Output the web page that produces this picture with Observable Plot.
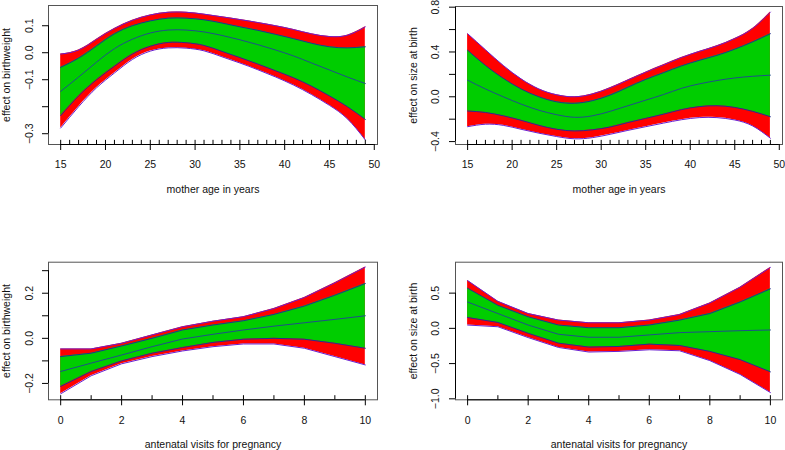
<!DOCTYPE html>
<html><head><meta charset="utf-8">
<script src="https://cdn.jsdelivr.net/npm/d3@7"></script>
<script src="https://cdn.jsdelivr.net/npm/@observablehq/plot@0.6"></script>
<style>
body{margin:0;background:#fff;}
#wrap{position:relative;width:785px;height:450px;overflow:hidden;background:#fff;}
#wrap svg{position:absolute;}
</style></head><body><div id="wrap"></div>
<script>
// ---------- data ----------
const ages = [15,17,19,21,23,25,27,29,31,33,35,37,39,41,43,45,47,49];
const ageRug = d3.range(15, 50);
const ageTicks = [15,20,25,30,35,40,45,50];

// panel 1: mother age -> effect on birthweight
const bwAgeHiO = [-0.005,0.01,0.05,0.09,0.12,0.14,0.15,0.15,0.143,0.133,0.123,0.112,0.1,0.086,0.07,0.06,0.065,0.096];
const bwAgeHiI = [-0.054,-0.02,0.025,0.07,0.1,0.118,0.128,0.128,0.122,0.11,0.096,0.083,0.068,0.052,0.035,0.022,0.018,0.022];
const bwAgeMean = [-0.143,-0.09,-0.035,0.015,0.05,0.073,0.084,0.084,0.077,0.064,0.048,0.03,0.01,-0.012,-0.038,-0.064,-0.09,-0.114];
const bwAgeLoI = [-0.233,-0.16,-0.1,-0.05,-0.005,0.024,0.038,0.037,0.027,0.005,-0.018,-0.042,-0.067,-0.093,-0.124,-0.16,-0.2,-0.247];
const bwAgeLoO = [-0.279,-0.2,-0.13,-0.075,-0.025,0.006,0.018,0.017,0.007,-0.015,-0.038,-0.063,-0.09,-0.12,-0.155,-0.195,-0.245,-0.323];
const bwAgeYTicks = [-0.3,-0.2,-0.1,0.0,0.1];
const bwAgeYLabels = [-0.3,-0.1,0.0,0.1];

// panel 2: mother age -> effect on size at birth
const szAgeHiO = [0.563,0.42,0.28,0.16,0.07,0.018,0.0,0.025,0.08,0.15,0.22,0.285,0.35,0.405,0.455,0.52,0.61,0.756];
const szAgeHiI = [0.415,0.28,0.165,0.07,0.0,-0.045,-0.058,-0.035,0.015,0.085,0.155,0.215,0.275,0.325,0.37,0.425,0.49,0.563];
const szAgeMean = [0.148,0.07,0.0,-0.065,-0.12,-0.16,-0.183,-0.17,-0.13,-0.08,-0.03,0.02,0.075,0.115,0.145,0.168,0.183,0.193];
const szAgeLoI = [-0.127,-0.14,-0.17,-0.21,-0.255,-0.29,-0.305,-0.295,-0.27,-0.23,-0.193,-0.155,-0.115,-0.088,-0.08,-0.095,-0.13,-0.178];
const szAgeLoO = [-0.267,-0.245,-0.255,-0.29,-0.325,-0.355,-0.375,-0.365,-0.335,-0.3,-0.267,-0.235,-0.205,-0.186,-0.186,-0.207,-0.26,-0.37];
const szAgeYTicks = [-0.4,-0.2,0.0,0.2,0.4,0.6,0.8];
const szAgeYLabels = [-0.4,0.0,0.4,0.8];

// panels 3 & 4: antenatal visits
const visits = [0,1,2,3,4,5,6,7,8,9,10];
const visitTicks = [0,2,4,6,8,10];

const bwVisHiO = [-0.047,-0.047,-0.022,0.015,0.051,0.076,0.096,0.132,0.181,0.246,0.316];
const bwVisHiI = [-0.081,-0.066,-0.034,0.0,0.037,0.059,0.078,0.106,0.143,0.191,0.243];
const bwVisMean = [-0.147,-0.11,-0.074,-0.037,-0.003,0.018,0.037,0.054,0.069,0.084,0.1];
const bwVisLoI = [-0.213,-0.147,-0.1,-0.066,-0.041,-0.018,-0.004,0.0,-0.004,-0.022,-0.044];
const bwVisLoO = [-0.246,-0.166,-0.113,-0.081,-0.056,-0.037,-0.025,-0.025,-0.044,-0.081,-0.118];
const bwVisYTicks = [-0.2,-0.1,0.0,0.1,0.2,0.3];
const bwVisYLabels = [-0.2,0.0,0.2];

const szVisHiO = [0.678,0.383,0.21,0.117,0.079,0.079,0.117,0.196,0.36,0.584,0.864];
const szVisHiI = [0.57,0.327,0.164,0.047,0.009,0.009,0.047,0.117,0.21,0.374,0.561];
const szVisMean = [0.374,0.21,0.047,-0.084,-0.126,-0.126,-0.093,-0.061,-0.047,-0.033,-0.023];
const szVisLoI = [0.154,0.084,-0.07,-0.21,-0.266,-0.257,-0.224,-0.243,-0.327,-0.444,-0.617];
const szVisLoO = [0.047,0.023,-0.131,-0.271,-0.336,-0.327,-0.304,-0.318,-0.458,-0.654,-0.911];
const szVisYTicks = [-1.0,-0.5,0.0,0.5];
const szVisYLabels = [-1.0,-0.5,0.0,0.5];

const labelAge = "mother age in years";
const labelVis = "antenatal visits for pregnancy";
const labelBw = "effect on birthweight";
const labelSz = "effect on size at birth";

// ---------- drawing ----------
const FONT = '"Liberation Sans", Arial, Helvetica, sans-serif';
const fmt = d => d.toFixed(1).replace("-", "\u2212");

function panel(cfg) {
  const rows = cfg.x.map((x, i) => ({x, loO: cfg.loO[i], loI: cfg.loI[i], m: cfg.mean[i], hiI: cfg.hiI[i], hiO: cfg.hiO[i]}));
  const [y0, y1] = cfg.yDomain;
  const [x0] = cfg.xDomain;
  const curve = cfg.curve;
  const svg = Plot.plot({
    width: cfg.width, height: cfg.height,
    marginLeft: cfg.ml, marginRight: cfg.mr, marginTop: cfg.mt, marginBottom: cfg.mb,
    x: {domain: cfg.xDomain},
    y: {domain: cfg.yDomain},
    style: {fontFamily: FONT, fontSize: "10.5px", background: "transparent", color: "#111"},
    marks: [
      Plot.areaY(rows, {x: "x", y1: "loO", y2: "hiO", fill: "#ff0000", curve}),
      Plot.areaY(rows, {x: "x", y1: "loI", y2: "hiI", fill: "#00cd00", curve}),
      Plot.line(rows, {x: "x", y: "hiO", stroke: "#6a1fd0", strokeWidth: 1, curve}),
      Plot.line(rows, {x: "x", y: "loO", stroke: "#6a1fd0", strokeWidth: 1, curve}),
      Plot.line(rows, {x: "x", y: "hiI", stroke: "#23308f", strokeWidth: 1, curve}),
      Plot.line(rows, {x: "x", y: "loI", stroke: "#23308f", strokeWidth: 1, curve}),
      Plot.line(rows, {x: "x", y: "m", stroke: "#1f4f8a", strokeWidth: 1, curve}),
      Plot.frame({stroke: "#555", strokeWidth: 1}),
      // rug
      Plot.ruleX(cfg.rug, {x: d => d, y1: y0, y2: y0 + 0.03 * (y1 - y0), stroke: "#000", strokeWidth: 1}),
      // axis lines
      Plot.ruleY([y0], {x1: cfg.xTicks[0], x2: cfg.xTicks[cfg.xTicks.length - 1], stroke: "#000"}),
      Plot.ruleX([x0], {y1: cfg.yTicks[0], y2: cfg.yTicks[cfg.yTicks.length - 1], stroke: "#000"}),
      // ticks
      Plot.axisX(cfg.xTicks, {anchor: "bottom", tickSize: 6, tickFormat: () => "", label: null, stroke: "#000"}),
      Plot.axisY(cfg.yTicks, {anchor: "left", tickSize: 6, tickFormat: () => "", label: null, stroke: "#000"}),
      // tick labels
      Plot.text(cfg.xTicks, {x: d => d, text: d => String(d), frameAnchor: "bottom", dy: 20.5, lineAnchor: "middle", fill: "#111"}),
      Plot.text(cfg.yLabels, {y: d => d, text: fmt, frameAnchor: "left", dx: cfg.ylabDx, rotate: -90, textAnchor: "middle", lineAnchor: "middle", fill: "#111"}),
      // axis titles
      Plot.text([cfg.xLabel], {text: d => d, frameAnchor: "bottom", dy: 45, lineAnchor: "middle", fill: "#111"}),
      Plot.text([cfg.yLabel], {text: d => d, frameAnchor: "left", dx: -41.5, rotate: -90, textAnchor: "middle", lineAnchor: "middle", fill: "#111"})
    ]
  });
  svg.style.left = cfg.left + "px";
  svg.style.top = cfg.top + "px";
  document.getElementById("wrap").appendChild(svg);
}

panel({left: 0, top: 0, width: 392, height: 225, ml: 48, mr: 15, mt: 5, mb: 81,
  x: ages, hiO: bwAgeHiO, hiI: bwAgeHiI, mean: bwAgeMean, loI: bwAgeLoI, loO: bwAgeLoO,
  xDomain: [13.64, 50.36], yDomain: [-0.34, 0.175], curve: "natural",
  rug: ageRug, xTicks: ageTicks, yTicks: bwAgeYTicks, yLabels: bwAgeYLabels, ylabDx: -18.5,
  xLabel: labelAge, yLabel: labelBw});

panel({left: 392, top: 0, width: 393, height: 225, ml: 63, mr: 3, mt: 6, mb: 81,
  x: ages, hiO: szAgeHiO, hiI: szAgeHiI, mean: szAgeMean, loI: szAgeLoI, loO: szAgeLoO,
  xDomain: [13.64, 50.36], yDomain: [-0.426, 0.806], curve: "natural",
  rug: ageRug, xTicks: ageTicks, yTicks: szAgeYTicks, yLabels: szAgeYLabels, ylabDx: -20,
  xLabel: labelAge, yLabel: labelSz});

panel({left: 0, top: 225, width: 392, height: 225, ml: 48, mr: 15, mt: 36.7, mb: 50.7,
  x: visits, hiO: bwVisHiO, hiI: bwVisHiI, mean: bwVisMean, loI: bwVisLoI, loO: bwVisLoO,
  xDomain: [-0.4, 10.4], yDomain: [-0.2726, 0.3376], curve: "linear",
  rug: visits, xTicks: visitTicks, yTicks: bwVisYTicks, yLabels: bwVisYLabels, ylabDx: -18.5,
  xLabel: labelVis, yLabel: labelBw});

panel({left: 392, top: 225, width: 393, height: 225, ml: 63, mr: 3, mt: 36.7, mb: 50.7,
  x: visits, hiO: szVisHiO, hiI: szVisHiI, mean: szVisMean, loI: szVisLoI, loO: szVisLoO,
  xDomain: [-0.4, 10.4], yDomain: [-1.014, 0.939], curve: "linear",
  rug: visits, xTicks: visitTicks, yTicks: szVisYTicks, yLabels: szVisYLabels, ylabDx: -20,
  xLabel: labelVis, yLabel: labelSz});
</script></body></html>
